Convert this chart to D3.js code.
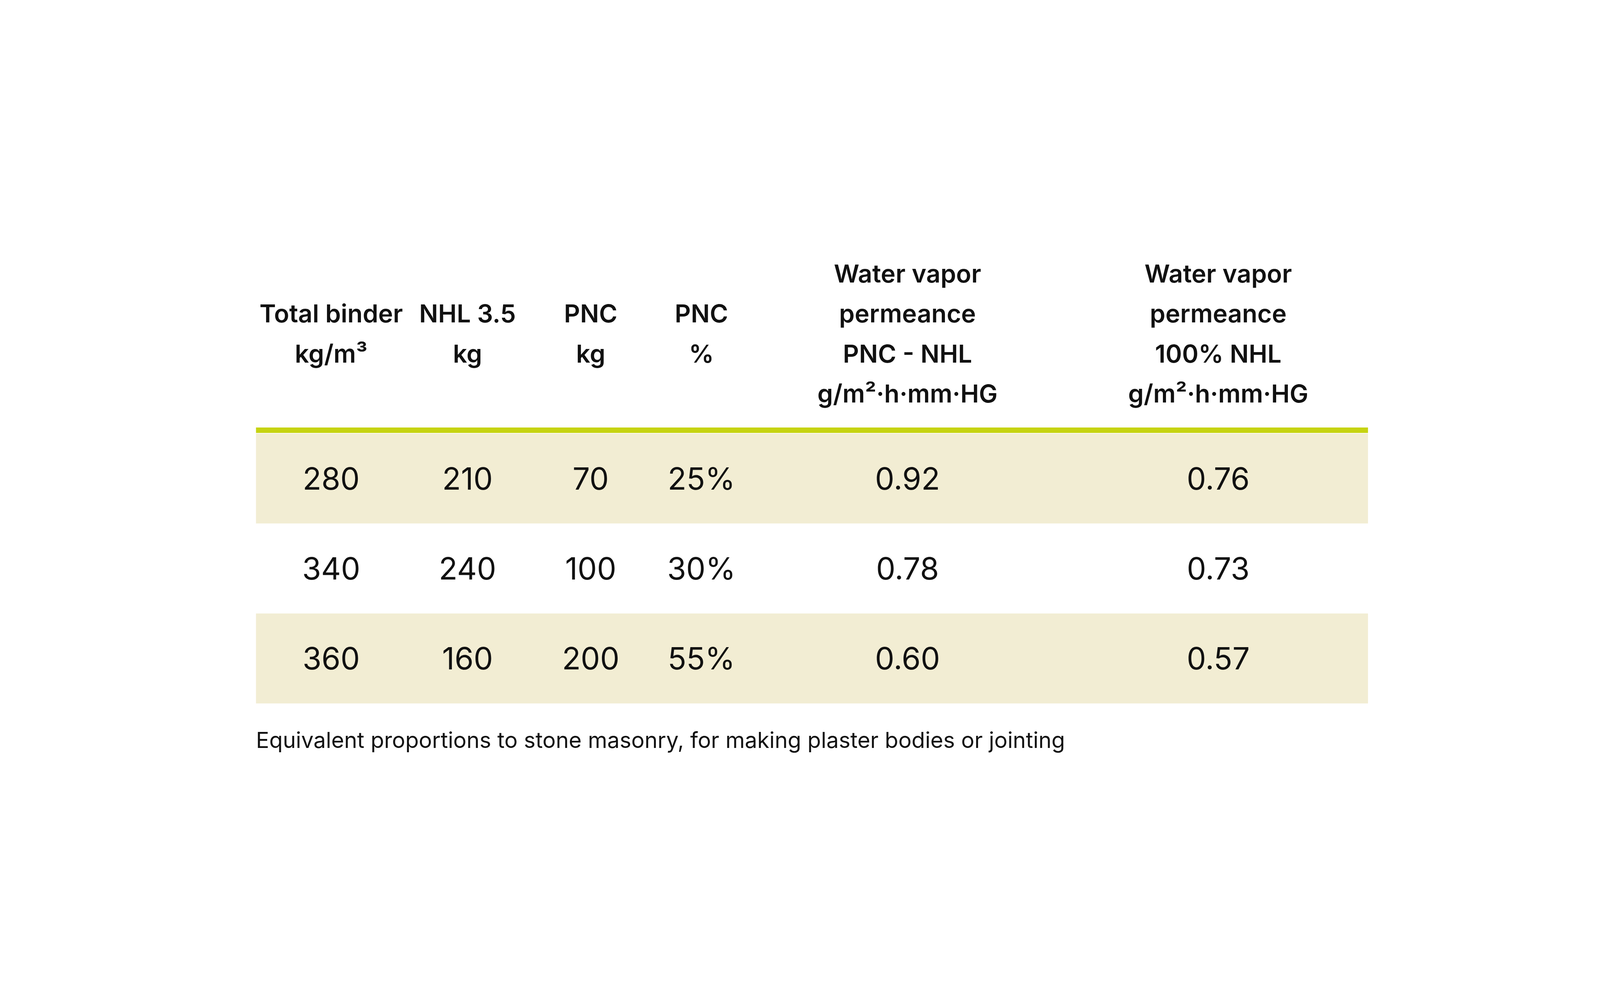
<!DOCTYPE html>
<html><head><meta charset="utf-8">
<script src="https://cdn.jsdelivr.net/npm/d3@7"></script>
<style>html,body{margin:0;background:#fff;overflow:hidden}svg{display:block;width:100vw;height:100vh}</style>
</head><body><svg viewBox="0 0 5000 2559" preserveAspectRatio="xMidYMid meet"></svg>
<script>
const headers = [
    ["Total binder", "kg/m³"],
    ["NHL 3.5", "kg"],
    ["PNC", "kg"],
    ["PNC", "%"],
    ["Water vapor", "permeance", "PNC - NHL", "g/m²·h·mm·HG"],
    ["Water vapor", "permeance", "100% NHL", "g/m²·h·mm·HG"]
];
const totalBinder = ["280", "340", "360"];
const nhl = ["210", "240", "160"];
const pncKg = ["70", "100", "200"];
const pncPct = ["25%", "30%", "55%"];
const permPncNhl = ["0.92", "0.78", "0.60"];
const perm100 = ["0.76", "0.73", "0.57"];
const caption = "Equivalent proportions to stone masonry, for making plaster bodies or jointing";

const rows = totalBinder.map((d, i) => [d, nhl[i], pncKg[i], pncPct[i], permPncNhl[i], perm100[i]]);

const svg = d3.select("svg");
const font = "Inter, 'Noto Sans', sans-serif";
const left = 800, right = 4275;
const colX = [1035, 1461, 1846, 2192, 2836, 3807];

const scaleY = d3.scaleBand().domain(d3.range(rows.length)).range([1072, 1915]).paddingInner(0);

// header
headers.forEach((h, c) => {
    const startY = h.length === 2 ? 704 : 579;
    h.forEach((line, k) => {
        svg.append("text")
            .attr("x", colX[c]).attr("y", startY + k * 125)
            .attr("text-anchor", "middle").attr("dominant-baseline", "middle")
            .style("font-family", font).style("font-weight", 600).style("font-size", "78px")
            .style("fill", "#111").text(line);
    });
});

svg.append("rect").attr("x", left).attr("y", 1053).attr("width", right - left).attr("height", 17).style("fill", "#c6d312");

svg.append("g").selectAll("rect").data(rows).enter().append("rect")
    .attr("x", left).attr("y", (d, i) => scaleY(i))
    .attr("width", right - left).attr("height", scaleY.bandwidth())
    .style("fill", (d, i) => i % 2 === 0 ? "#f2edd3" : "#fff");

rows.forEach((r, i) => {
    r.forEach((v, c) => {
        svg.append("text")
            .attr("x", colX[c]).attr("y", scaleY(i) + scaleY.bandwidth() / 2)
            .attr("text-anchor", "middle").attr("dominant-baseline", "central")
            .style("font-family", font).style("font-size", "96px").style("fill", "#111").text(v);
    });
});

svg.append("text").attr("x", left).attr("y", 2035)
    .attr("dominant-baseline", "middle")
    .style("font-family", font).style("font-size", "69px").style("fill", "#111").text(caption);
</script></body></html>
